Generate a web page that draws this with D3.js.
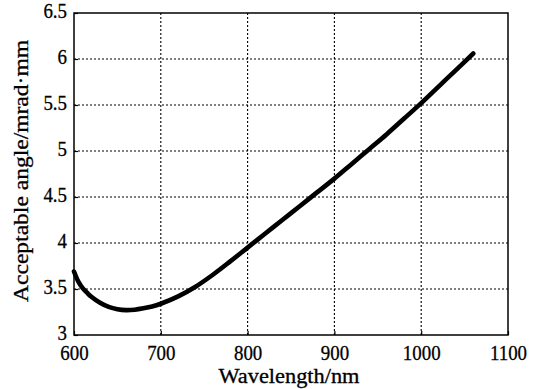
<!DOCTYPE html>
<html>
<head>
<meta charset="utf-8">
<script src="https://cdn.jsdelivr.net/npm/d3@7/dist/d3.min.js"></script>
<style>
  html, body { margin: 0; padding: 0; background: #fff; }
  svg { display: block; }
  text { font-family: "Liberation Serif", "Times New Roman", serif; fill: #000; stroke: #000; stroke-width: 0.3px; }
</style>
</head>
<body>
<svg id="chart" width="533" height="389"></svg>
<script>
// Acceptance angle vs. wavelength
const wavelength = [600, 605, 610, 615, 620, 630, 640, 650, 660, 670, 680, 690, 700, 720, 740, 760, 780, 800, 820, 840, 860, 880, 900, 920, 940, 960, 980, 1000, 1020, 1040, 1060];
const acceptAngle = [3.69, 3.58, 3.51, 3.46, 3.415, 3.35, 3.305, 3.28, 3.27, 3.275, 3.29, 3.31, 3.34, 3.42, 3.525, 3.655, 3.80, 3.95, 4.10, 4.25, 4.40, 4.55, 4.70, 4.86, 5.02, 5.18, 5.35, 5.52, 5.70, 5.88, 6.06];
const xTicks = [600, 700, 800, 900, 1000, 1100];
const yTicks = [3, 3.5, 4, 4.5, 5, 5.5, 6, 6.5];
const yTickLabels = ["3", "3.5", "4", "4.5", "5", "5.5", "6", "6.5"];

const svg = d3.select("#chart");
const L = 74, R = 508, T = 13, B = 335;

const x = d3.scaleLinear().domain([600, 1100]).range([L, R]);
const y = d3.scaleLinear().domain([3, 6.5]).range([B, T]);

// dotted grid
const grid = svg.append("g").attr("stroke", "#000").attr("stroke-width", 1.1)
  .attr("stroke-dasharray", "2,2");
grid.selectAll("line.vx").data(xTicks.slice(1, -1)).join("line")
  .attr("x1", d => x(d)).attr("x2", d => x(d)).attr("y1", T).attr("y2", B);
grid.selectAll("line.hy").data(yTicks.slice(1, -1)).join("line")
  .attr("y1", d => y(d)).attr("y2", d => y(d)).attr("x1", L).attr("x2", R);

// axes with inward ticks
const fs = 21, sx = 0.9;
const xAxis = d3.axisBottom(x).tickValues(xTicks).tickFormat(d3.format("d"))
  .tickSizeInner(-4).tickSizeOuter(0);
const yAxis = d3.axisLeft(y).tickValues(yTicks).tickFormat((d, i) => yTickLabels[i])
  .tickSizeInner(-4).tickSizeOuter(0);

const gx = svg.append("g").attr("transform", `translate(0,${B})`).call(xAxis);
const gy = svg.append("g").attr("transform", `translate(${L},0)`).call(yAxis);
[gx, gy].forEach(g => {
  g.select(".domain").remove();
  g.selectAll(".tick line").attr("stroke", "#000").attr("stroke-width", 1.2);
  g.selectAll(".tick text").attr("font-size", fs);
});
// slightly condensed numerals
gx.selectAll(".tick text").attr("y", 25).attr("dy", null)
  .attr("transform", `scale(${sx},1)`);
gy.selectAll(".tick text").attr("x", -7 / sx).attr("dy", "0.22em")
  .attr("transform", `scale(${sx},1)`);

// frame
svg.append("rect").attr("x", L).attr("y", T).attr("width", R - L).attr("height", B - T)
  .attr("fill", "none").attr("stroke", "#000").attr("stroke-width", 1.5);

// curve
const line = d3.line().x((d, i) => x(wavelength[i])).y(d => y(d)).curve(d3.curveCatmullRom);
svg.append("path").datum(acceptAngle)
  .attr("d", line).attr("fill", "none").attr("stroke", "#000")
  .attr("stroke-width", 4.6).attr("stroke-linecap", "round").attr("stroke-linejoin", "round");

// axis titles
svg.append("text").attr("x", 289).attr("y", 383).attr("text-anchor", "middle")
  .attr("font-size", 20).attr("textLength", 141).attr("lengthAdjust", "spacingAndGlyphs")
  .text("Wavelength/nm");
svg.append("text").attr("transform", "translate(28,171) rotate(-90)").attr("text-anchor", "middle")
  .attr("font-size", 20).attr("textLength", 262).attr("lengthAdjust", "spacingAndGlyphs")
  .text("Acceptable angle/mrad·mm");
</script>
</body>
</html>
